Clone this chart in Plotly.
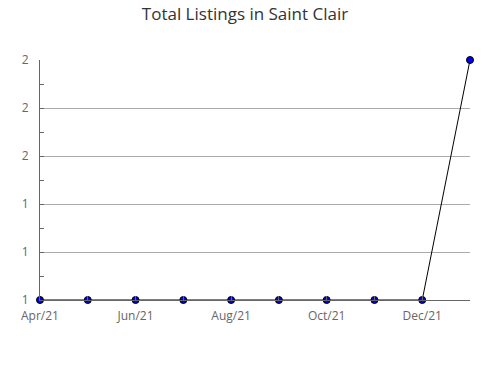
import plotly.graph_objects as go

months = ["Apr/21", "May/21", "Jun/21", "Jul/21", "Aug/21", "Sep/21",
          "Oct/21", "Nov/21", "Dec/21", "Jan/22"]
listings = [1, 1, 1, 1, 1, 1, 1, 1, 1, 2]
tick_labels = ["Apr/21", "", "Jun/21", "", "Aug/21", "", "Oct/21", "", "Dec/21", ""]
y_ticks = [1.0, 1.2, 1.4, 1.6, 1.8, 2.0]

x_idx = list(range(len(months)))

fig = go.Figure()
fig.add_trace(go.Scatter(
    x=x_idx, y=listings, mode="lines+markers",
    line=dict(color="black", width=1),
    marker=dict(color="#0000ee", size=7, line=dict(color="black", width=1)),
    cliponaxis=False, hovertext=months,
))

fig.update_layout(
    width=490, height=380,
    margin=dict(l=40, r=20, t=60, b=80),
    paper_bgcolor="white", plot_bgcolor="white",
    font=dict(family="Open Sans", color="#555555", size=12),
    title=dict(text="Total Listings in Saint Clair", x=0.5, xanchor="center",
               y=0.962, yanchor="middle",
               font=dict(family="Open Sans", size=17, color="#333333")),
    showlegend=False,
)
fig.update_xaxes(
    range=[0, len(months) - 1], tickvals=x_idx, ticktext=tick_labels,
    showgrid=False, zeroline=False, showline=True, linecolor="#666666", linewidth=1,
    ticks="inside", ticklen=4, tickcolor="#666666", ticklabelstandoff=5,
    tickfont=dict(size=12, color="#666666"),
)
fig.update_yaxes(
    range=[1, 2], tickvals=y_ticks, tickformat=".0f",
    showgrid=True, gridcolor="#aaaaaa", gridwidth=1, zeroline=False,
    showline=True, linecolor="#666666", linewidth=1,
    ticks="inside", ticklen=4, tickcolor="#666666", ticklabelstandoff=8,
    minor=dict(dtick=0.1, ticks="inside", ticklen=4, tickcolor="#666666", showgrid=False),
    tickfont=dict(size=12, color="#666666"),
)

fig.write_html("out.html")
